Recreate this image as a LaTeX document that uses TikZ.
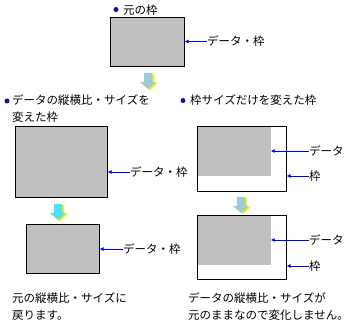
\documentclass[tikz,border=0pt]{standalone}
\usepackage{fontspec}
\newfontfamily\jp{Noto Sans CJK JP}
\usetikzlibrary{arrows.meta,positioning}

\definecolor{framegray}{HTML}{C0C0C0}
\definecolor{markblue}{HTML}{0000FF}
\definecolor{bulletblue}{HTML}{1010B0}
\definecolor{softcyan}{HTML}{98CCD6}
\definecolor{brightcyan}{HTML}{4CE4F4}
\definecolor{shadowyellow}{HTML}{F0F000}

\tikzset{
  txt/.style={inner sep=0pt,font=\jp\fontsize{11.5}{17}\selectfont},
  framebox/.style={draw=black,line width=1pt,fill=#1,inner sep=0pt},
  framebox/.default=framegray,
  datafill/.style={fill=framegray,inner sep=0pt},
  pointer/.style={draw=markblue,line width=0.8pt,-{Latex[length=4pt,width=4pt]}},
  bullet/.style={circle,fill=bulletblue,inner sep=0pt,minimum size=5pt},
  pics/downarrow/.style={code={
    \fill[shadowyellow] (-2,1) -- (6,1) -- (6,10) -- (10,10) -- (2,17) -- (-6,10) -- (-2,10) -- cycle;
    \fill[#1] (-4,0) -- (4,0) -- (4,9) -- (8,9) -- (0,16) -- (-8,9) -- (-4,9) -- cycle;
  }}
}

\begin{document}
\begin{tikzpicture}[x=1pt,y=-1pt]
  \useasboundingbox (0,0) rectangle (357,326);

  % original frame
  \node[bullet] (b0) at (116,9.5) {};
  \node[txt,anchor=west] (t0) at (123,10.5) {元の枠};
  \node[framebox,minimum width=74,minimum height=49] (orig) at (147,42.5) {};
  \node[txt,anchor=west] (l0) at (207,41.5) {データ・枠};
  \draw[pointer] (l0.west) -- (orig.east |- l0.west);
  \pic at (148,73) {downarrow=softcyan};

  % left column
  \node[bullet] (b1) at (7,101) {};
  \node[txt,anchor=north west,align=left] (t1) at (12,94.5) {データの縦横比・サイズを\\変えた枠};
  \node[framebox,minimum width=92,minimum height=71] (big) at (61,162.5) {};
  \node[txt,anchor=west] (l1) at (130,172) {データ・枠};
  \draw[pointer] (l1.west) -- (big.east |- l1.west);
  \pic at (58,204) {downarrow=brightcyan};
  \node[framebox,minimum width=73,minimum height=49] (back) at (62.5,249.5) {};
  \node[txt,anchor=west] (l2) at (123,249) {データ・枠};
  \draw[pointer] (l2.west) -- (back.east |- l2.west);
  \node[txt,anchor=north west,align=left] (t2) at (12,292.5) {元の縦横比・サイズに\\戻ります。};

  % right column
  \node[bullet] (b2) at (183,100.5) {};
  \node[txt,anchor=west] (t3) at (190,100.5) {枠サイズだけを変えた枠};
  \node[framebox=white,minimum width=89,minimum height=65] (wide) at (241.5,159.5) {};
  \node[datafill,minimum width=73,minimum height=48.5] (widedata) at (234,151.5) {};
  \node[txt,anchor=west] (l3) at (309,151) {データ};
  \node[txt,anchor=west] (l4) at (309,176) {枠};
  \draw[pointer] (l3.west) -- (widedata.east |- l3.west);
  \draw[pointer] (l4.west) -- (wide.east |- l4.west);
  \pic at (241,197) {downarrow=softcyan};
  \node[framebox=white,minimum width=89,minimum height=64] (same) at (241.5,248) {};
  \node[datafill,minimum width=73,minimum height=48.5] (samedata) at (234,240.5) {};
  \node[txt,anchor=west] (l5) at (309,240) {データ};
  \node[txt,anchor=west] (l6) at (309,266) {枠};
  \draw[pointer] (l5.west) -- (samedata.east |- l5.west);
  \draw[pointer] (l6.west) -- (same.east |- l6.west);
  \node[txt,anchor=north west,align=left] (t4) at (188,292.5) {データの縦横比・サイズが\\元のままなので変化しません。};
\end{tikzpicture}
\end{document}
